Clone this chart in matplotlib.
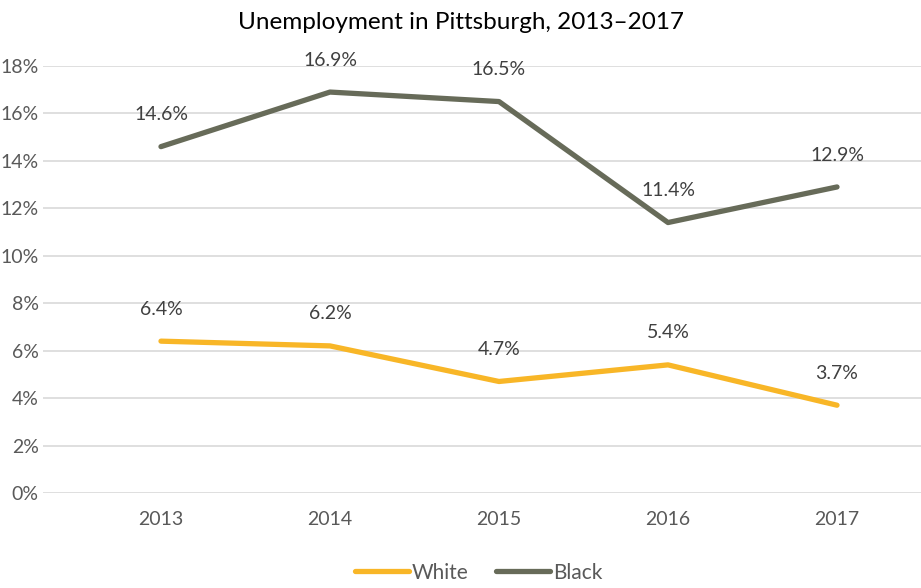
import matplotlib.pyplot as plt
from matplotlib.ticker import FuncFormatter

# Data
years = ["2013", "2014", "2015", "2016", "2017"]
white = [6.4, 6.2, 4.7, 5.4, 3.7]
black = [14.6, 16.9, 16.5, 11.4, 12.9]

plt.rcParams['font.family'] = ['Lato', 'DejaVu Sans']

fig = plt.figure(figsize=(9.21, 5.88), dpi=100)
ax = fig.add_axes([0.0467, 0.1616, 0.9533, 0.7262])

x = range(len(years))
ax.plot(x, white, color="#F8B627", lw=3.8, label="White", solid_capstyle="round")
ax.plot(x, black, color="#676B59", lw=3.8, label="Black", solid_capstyle="round")

# Data labels above each point
for series in (white, black):
    for xi, v in zip(x, series):
        ax.annotate(f"{v:.1f}%", (xi, v), xytext=(0, 23), textcoords="offset points",
                    ha="center", va="center", fontsize=14, color="#404040")

ax.set_xlim(-0.698, 4.497)
ax.set_ylim(0, 18)
ax.set_yticks(range(0, 19, 2))
ax.yaxis.set_major_formatter(FuncFormatter(lambda v, p: f"{v:.0f}%"))
ax.set_xticks(list(x))
ax.set_xticklabels(years)
ax.tick_params(axis="both", length=0, labelsize=14, labelcolor="#595959")
ax.tick_params(axis="x", pad=13)
ax.tick_params(axis="y", pad=3)
ax.yaxis.grid(True, color="#D9D9D9", lw=1.2)
ax.set_axisbelow(True)
for s in ax.spines.values():
    s.set_visible(False)

fig.text(0.5, 0.962, "Unemployment in Pittsburgh, 2013\u20132017", ha="center", va="center",
         fontsize=17.5, color="#000000")

fig.legend(loc="center", bbox_to_anchor=(0.5195, 0.026), ncol=2, frameon=False,
           fontsize=15, handlelength=2.6, handletextpad=0.15, columnspacing=1.3,
           labelcolor="#595959")

fig.savefig("out.png", dpi=100)
